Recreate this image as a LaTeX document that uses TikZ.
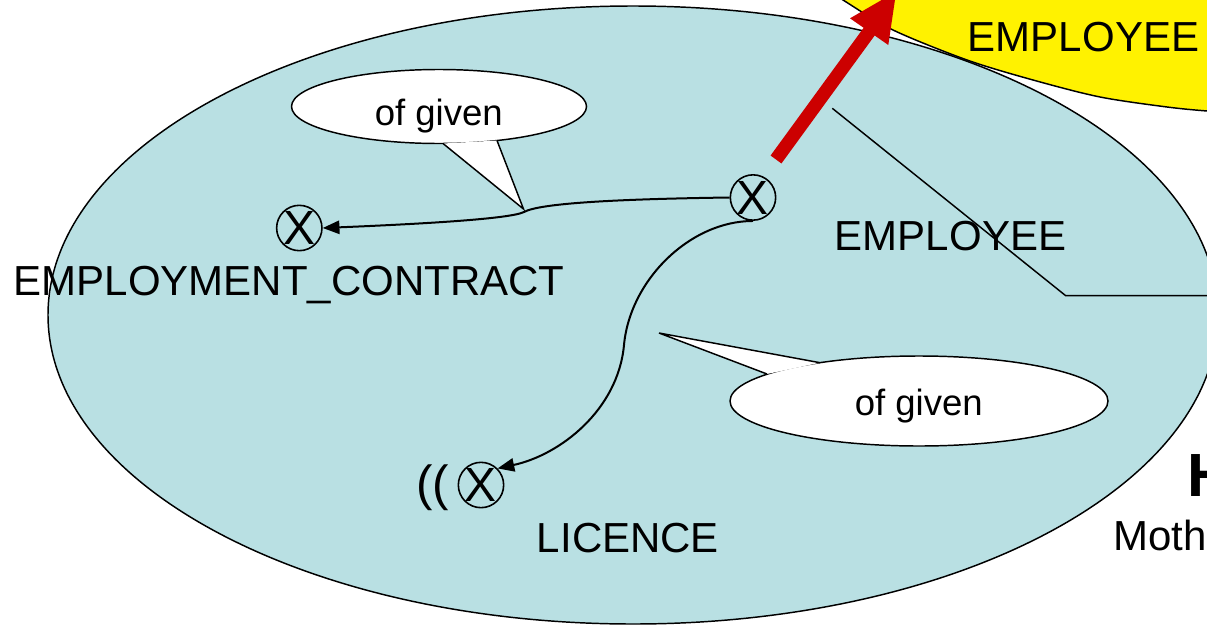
\documentclass[tikz,border=0pt]{standalone}
\usepackage{fontspec}
\setmainfont{Liberation Sans}
\usetikzlibrary{arrows.meta}
\definecolor{lblue}{RGB}{185,224,227}
\definecolor{dred}{RGB}{204,0,0}
\begin{document}
\begin{tikzpicture}[x=0.75pt,y=-0.75pt,
  outline/.style={line width=1.1pt},
  lbl/.style={font=\fontsize{31.5}{36}\selectfont, inner sep=0pt, anchor=base},
  calltext/.style={font=\fontsize{27.4}{32}\selectfont, inner sep=0pt, anchor=base},
  xnode/.style={circle, draw, line width=1.2pt, minimum size=34pt, inner sep=0pt,
    label={[inner sep=0pt, font=\fontsize{36}{38}\selectfont]center:X}},
  conn/.style={line width=1.5pt, -{Triangle[length=12.5pt,width=10pt]}},
  bubble/.style={outline, fill=white}]
\useasboundingbox (0,0) rectangle (1207,625);
\clip (0,0) rectangle (1207,625);
% yellow ellipse (mostly off canvas)
\fill[yellow] plot[smooth] coordinates {(825,-12) (843,0) (893,30) (967,60) (1033,80) (1100,97) (1167,107) (1207,111) (1240,113)} -- (1240,-30) -- (825,-30) -- cycle;
\draw[outline] plot[smooth] coordinates {(825,-12) (843,0) (893,30) (967,60) (1033,80) (1100,97) (1167,107) (1207,111) (1240,113)};
% big blue ellipse
\filldraw[outline, fill=lblue] (633,315) ellipse [x radius=585, y radius=309];
% callout 1
\filldraw[bubble] (439,106.5) ellipse [x radius=147.5, y radius=37];
\fill[white] (443,143.5) -- (523.5,209) -- (497,140.5) -- cycle;
\draw[outline] (443,143.5) -- (523.5,209) -- (497,140.5);
% callout 2
\filldraw[bubble] (919,401) ellipse [x radius=189, y radius=45];
\fill[white] (767,374) -- (659,333) -- (820,362.7) -- cycle;
\draw[outline] (767,374) -- (659,333) -- (820,362.7);
% circled X nodes
\node[xnode] (tc) at (753,197.5) {};
\node[xnode] (lc) at (299.3,228) {};
\node[xnode] (bc) at (481,485) {};
% connectors
\draw[conn] (tc.west) .. controls (620,199) and (540,203) .. (524,212)
  .. controls (510,219) and (420,224) .. (lc.east);
\draw[conn] (tc.south) .. controls (690,221) and (630,280) .. (624,345)
  .. controls (618,410) and (560,455) .. (bc.north east);
% texts
\node[lbl] (emp1) at (1083.5,51) {EMPLOYEE};
\node[lbl] (emp2) at (950.5,250.7) {EMPLOYEE};
\node[lbl] (ec) at (289,295) {EMPLOYMENT\_CONTRACT};
\node[lbl] (lic) at (628,552) {LICENCE};
\node[calltext] (og1) at (438.8,125) {of given};
\node[calltext] (og2) at (918.8,415) {of given};
\node[anchor=base, inner sep=0pt, font=\fontsize{37}{40}\selectfont] (par) at (432.5,500) {((};
\node[anchor=base west, inner sep=0pt, font=\fontsize{45.75}{50}\selectfont\bfseries] (hh) at (1187,496.7) {H};
\node[lbl, anchor=base west] (moth) at (1113,550.7) {Moth};
% thin line
\coordinate (l1) at (832.3,108.3);
\coordinate (l2) at (1065.7,295.7);
\coordinate (l3) at (1220,295.7);
\draw[outline] (l1) -- (l2) -- (l3);
% red arrow
\coordinate (ra) at (776,159.5);
\coordinate (rb) at (870,30.5);
\draw[dred, line width=10.1pt] (ra) -- (rb);
\fill[dred] (850,18.3) -- (896.2,-8.4) -- (888.3,45) -- cycle;
\end{tikzpicture}
\end{document}
